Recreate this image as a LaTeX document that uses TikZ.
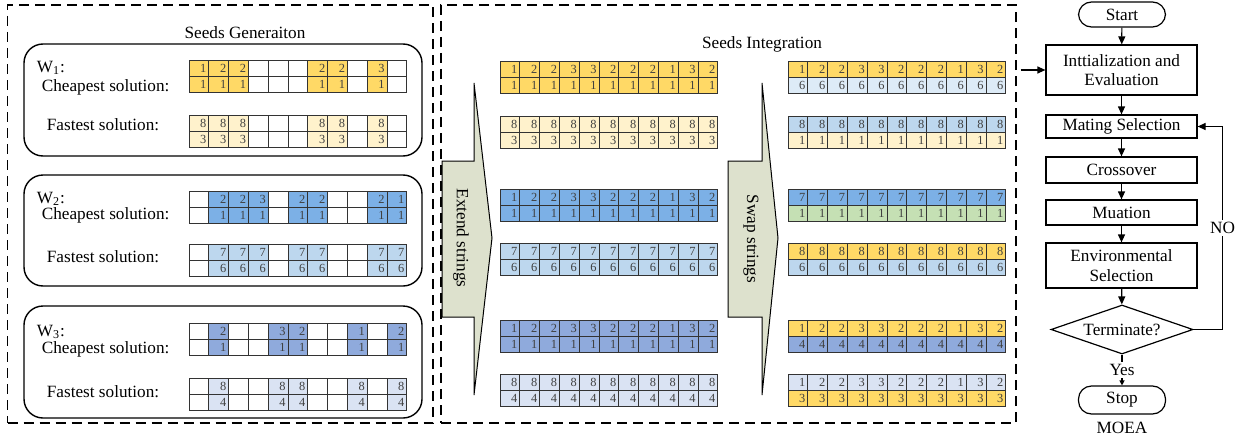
\documentclass[tikz,border=0pt]{standalone}
\usepackage{fontspec}
\setmainfont{Liberation Serif}
\usetikzlibrary{shapes.geometric,arrows.meta}

\definecolor{seedgold}{HTML}{FFD966}
\definecolor{seedcream}{HTML}{FFF2CC}
\definecolor{seedblue}{HTML}{7CB0E6}
\definecolor{seedsky}{HTML}{BDD7EE}
\definecolor{seedslate}{HTML}{8FAADC}
\definecolor{seedlav}{HTML}{DAE3F3}
\definecolor{seedice}{HTML}{DDEBF7}
\definecolor{seedgreen}{HTML}{C5E0B4}
\definecolor{arrowfill}{HTML}{DDE1CD}

\tikzset{
  cellline/.style={draw=black!80,line width=0.5pt},
  digit/.style={anchor=east,inner sep=1pt,text=black!75,font=\fontsize{6.2}{7}\selectfont},
  panel/.style={draw,dash pattern=on 5pt off 3pt,line width=0.6pt,inner sep=0pt},
  wbox/.style={line width=0.7pt,rounded corners=9.5pt},
  wlabel/.style={anchor=base west,inner sep=0pt},
  blockarr/.style={draw,fill=arrowfill,line width=0.5pt},
  flowbox/.style={draw,line width=0.6pt,minimum width=75.5pt,inner sep=1pt,align=center},
  endbox/.style={draw,line width=0.6pt,rounded corners=6.5pt,minimum width=43.5pt,inner sep=1pt},
  decide/.style={draw,diamond,aspect=2.9,line width=0.6pt,minimum width=71pt,minimum height=24.5pt,inner sep=0pt},
  flowarr/.style={-{Triangle[length=4pt,width=3.5pt]},line width=0.6pt},
}

% one string of 11 cells: x, y, colour, values (x = empty cell)
\newcommand{\cellrow}[4]{%
  \foreach \v [count=\k from 0] in {#4}{
    \if\v x
      \draw[cellline] ({#1+\k*19.8},{#2}) rectangle ++(19.8,16.2);
    \else
      \draw[cellline,fill=#3] ({#1+\k*19.8},{#2}) rectangle ++(19.8,16.2);
      \node[digit] at ({#1+(\k+1)*19.8},{#2+8.1}) {\v};
    \fi
  }}
% two strings on top of each other
\newcommand{\seedpair}[6]{\cellrow{#1}{#2}{#3}{#5}\cellrow{#1}{#2+16.2}{#4}{#6}}

\begin{document}
\begin{tikzpicture}[x=0.5pt,y=-0.5pt,font=\fontsize{8.6}{9.8}\selectfont]
    \useasboundingbox (0,0) rectangle (1242,439);

    % seeds generation
    \node[panel,minimum width=212.75pt,minimum height=209pt] (gen) at (220.25,214) {};
    \node[anchor=base] (gentitle) at (245,38.6) {Seeds Generaiton};

    \draw[wbox] (24,44) rectangle (422,156);
    \node[wlabel] (w1) at (36.5,72.3) {W\textsubscript{1}:};
    \node[wlabel] (cheap1) at (41.5,91.6) {Cheapest solution:};
    \node[wlabel] (fast1) at (46.5,130.6) {Fastest solution:};
    \seedpair{189}{60}{seedgold}{seedgold}{1,2,2,x,x,x,2,2,x,3,x}{1,1,1,x,x,x,1,1,x,1,x}
    \seedpair{189}{115}{seedcream}{seedcream}{8,8,8,x,x,x,8,8,x,8,x}{3,3,3,x,x,x,3,3,x,3,x}

    \draw[wbox] (24,175) rectangle (422,286);
    \node[wlabel] (w2) at (36.5,203.9) {W\textsubscript{2}:};
    \node[wlabel] (cheap2) at (41.5,219.6) {Cheapest solution:};
    \node[wlabel] (fast2) at (46.5,262.3) {Fastest solution:};
    \seedpair{189}{191}{seedblue}{seedblue}{x,2,2,3,x,2,2,x,x,2,1}{x,1,1,1,x,1,1,x,x,1,1}
    \seedpair{189}{244}{seedsky}{seedsky}{x,7,7,7,x,7,7,x,x,7,7}{x,6,6,6,x,6,6,x,x,6,6}

    \draw[wbox] (24,306) rectangle (422,418);
    \node[wlabel] (w3) at (36.5,336.6) {W\textsubscript{3}:};
    \node[wlabel] (cheap3) at (41.5,353.9) {Cheapest solution:};
    \node[wlabel] (fast3) at (46.5,397.3) {Fastest solution:};
    \seedpair{189}{323}{seedslate}{seedslate}{x,2,x,x,3,2,x,x,1,x,2}{x,1,x,x,1,1,x,x,1,x,1}
    \seedpair{189}{378}{seedlav}{seedlav}{x,8,x,x,8,8,x,x,8,x,8}{x,4,x,x,4,4,x,x,4,x,4}

    % seeds integration
    \node[panel,minimum width=287.5pt,minimum height=209pt] (integ) at (728.5,214) {};
    \node[anchor=base] (inttitle) at (762,48.6) {Seeds Integration};

    \draw[blockarr] (442,161) -- (474,161) -- (474,83) -- (492,238) -- (474,395) -- (474,317) -- (442,317) -- cycle;
    \node[rotate=-90] (extend) at (461,238) {Extend strings};

    \seedpair{500}{61}{seedgold}{seedgold}{1,2,2,3,3,2,2,2,1,3,2}{1,1,1,1,1,1,1,1,1,1,1}
    \seedpair{500}{116}{seedcream}{seedcream}{8,8,8,8,8,8,8,8,8,8,8}{3,3,3,3,3,3,3,3,3,3,3}
    \seedpair{500}{189}{seedblue}{seedblue}{1,2,2,3,3,2,2,2,1,3,2}{1,1,1,1,1,1,1,1,1,1,1}
    \seedpair{500}{243}{seedsky}{seedsky}{7,7,7,7,7,7,7,7,7,7,7}{6,6,6,6,6,6,6,6,6,6,6}
    \seedpair{500}{320}{seedslate}{seedslate}{1,2,2,3,3,2,2,2,1,3,2}{1,1,1,1,1,1,1,1,1,1,1}
    \seedpair{500}{374}{seedlav}{seedlav}{8,8,8,8,8,8,8,8,8,8,8}{4,4,4,4,4,4,4,4,4,4,4}

    \draw[blockarr] (728,161) -- (762,161) -- (762,83) -- (778,238) -- (762,395) -- (762,317) -- (728,317) -- cycle;
    \node[rotate=-90] (swap) at (751,239) {Swap strings};

    \seedpair{788}{61}{seedgold}{seedice}{1,2,2,3,3,2,2,2,1,3,2}{6,6,6,6,6,6,6,6,6,6,6}
    \seedpair{788}{116}{seedsky}{seedcream}{8,8,8,8,8,8,8,8,8,8,8}{1,1,1,1,1,1,1,1,1,1,1}
    \seedpair{788}{189}{seedblue}{seedgreen}{7,7,7,7,7,7,7,7,7,7,7}{1,1,1,1,1,1,1,1,1,1,1}
    \seedpair{788}{243}{seedgold}{seedsky}{8,8,8,8,8,8,8,8,8,8,8}{6,6,6,6,6,6,6,6,6,6,6}
    \seedpair{788}{320}{seedgold}{seedslate}{1,2,2,3,3,2,2,2,1,3,2}{4,4,4,4,4,4,4,4,4,4,4}
    \seedpair{788}{374}{seedlav}{seedgold}{1,2,2,3,3,2,2,2,1,3,2}{3,3,3,3,3,3,3,3,3,3,3}

    % MOEA
    \node[endbox,minimum height=12.5pt] (start) at (1122,14.5) {Start};
    \node[flowbox,minimum height=25pt] (init) at (1121.5,70) {Inttialization and\\Evaluation};
    \node[flowbox,minimum height=11.5pt] (mate) at (1121.5,126.5) {Mating Selection};
    \node[flowbox,minimum height=13pt] (cross) at (1121.5,170) {Crossover};
    \node[flowbox,minimum height=12.5pt] (mut) at (1121.5,212.5) {Muation};
    \node[flowbox,minimum height=22.5pt] (env) at (1121.5,265.5) {Environmental\\Selection};
    \node[decide] (term) at (1122,329.5) {Terminate?};
    \node[endbox,minimum height=14pt] (stop) at (1122,400) {Stop};
    \node (moea) at (1122,428) {MOEA};

    \draw[flowarr] (start) -- (init);
    \draw[flowarr] (init) -- (mate);
    \draw[flowarr] (mate) -- (cross);
    \draw[flowarr] (cross) -- (mut);
    \draw[flowarr] (mut) -- (env);
    \draw[flowarr] (env) -- (term);
    \draw[-{Triangle[length=2.5pt,width=2.5pt]},line width=0.6pt] (term) -- node[fill=white,inner sep=1pt] (yes) {Yes} (stop);
    \draw[flowarr] (term.east) -- ++(29,0) |- node[pos=0.25,fill=white,inner sep=1pt] (no) {NO} (mate.east);
    \draw[flowarr,shorten <=2pt] (integ.east |- init.west) -- (init.west);
\end{tikzpicture}
\end{document}
